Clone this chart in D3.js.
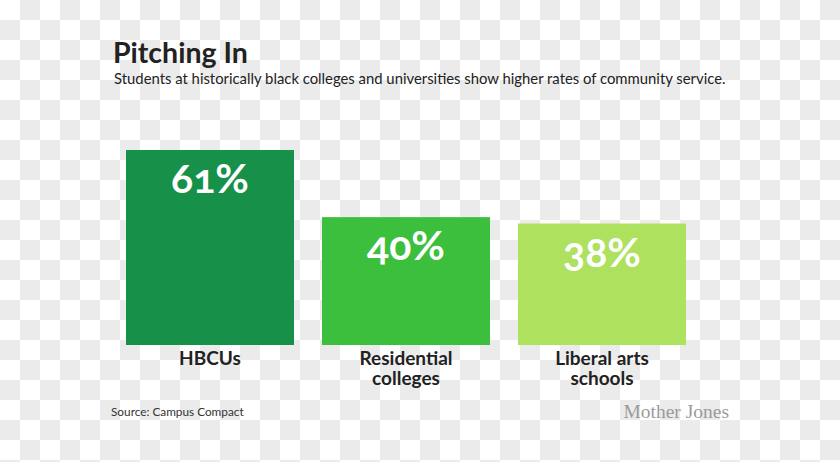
<!DOCTYPE html>
<html>
<head>
<meta charset="utf-8">
<script src="https://cdn.jsdelivr.net/npm/d3@7"></script>
<style>
  html, body { margin: 0; padding: 0; background: #fff; }
  svg { display: block; }
</style>
</head>
<body>
<div id="chart"></div>
<script>
const categories = [["HBCUs"], ["Residential", "colleges"], ["Liberal arts", "schools"]];
const categoryKeys = ["HBCUs", "Residential colleges", "Liberal arts schools"];
const values = [61, 40, 38];
const barColors = ["#17914a", "#3bbf3d", "#ade15e"];
const title = "Pitching In";
const subtitle = "Students at historically black colleges and universities show higher rates of community service.";
const source = "Source: Campus Compact";
const brand = "Mother Jones";

const W = 840, H = 462;
const svg = d3.select("#chart").append("svg").attr("width", W).attr("height", H);

// checkerboard background
const defs = svg.append("defs");
const pat = defs.append("pattern").attr("id", "checker").attr("patternUnits", "userSpaceOnUse")
  .attr("width", 40).attr("height", 40);
pat.append("rect").attr("width", 40).attr("height", 40).attr("fill", "#ffffff");
pat.append("rect").attr("x", 20).attr("y", 0).attr("width", 20).attr("height", 20).attr("fill", "#ebebeb");
pat.append("rect").attr("x", 0).attr("y", 20).attr("width", 20).attr("height", 20).attr("fill", "#ebebeb");
svg.append("rect").attr("width", W).attr("height", H).attr("fill", "url(#checker)");

const x = d3.scaleBand().domain(categoryKeys).range([126, 686]).paddingInner(28 / 196).paddingOuter(0);
const y = d3.scaleLinear().domain([0, 61]).range([345, 150]);

const data = categoryKeys.map((k, i) => ({ key: k, lines: categories[i], value: values[i], color: barColors[i] }));

svg.selectAll("rect.bar").data(data).join("rect")
  .attr("class", "bar")
  .attr("x", d => x(d.key))
  .attr("y", d => y(d.value))
  .attr("width", x.bandwidth())
  .attr("height", d => y(0) - y(d.value))
  .attr("fill", d => d.color);

svg.selectAll("text.val").data(data).join("text")
  .attr("class", "val")
  .attr("x", d => x(d.key) + x.bandwidth() / 2)
  .attr("y", d => y(d.value) + 43)
  .attr("text-anchor", "middle")
  .attr("fill", "#ffffff")
  .style("font-family", "Lato, 'Open Sans', sans-serif")
  .style("font-weight", "700")
  .style("font-size", "41px")
  .style("font-variant-numeric", "oldstyle-nums")
  .text(d => d.value + "%");

const cat = svg.selectAll("text.cat").data(data).join("text")
  .attr("class", "cat")
  .attr("text-anchor", "middle")
  .attr("fill", "#222222")
  .style("font-family", "Lato, 'Open Sans', sans-serif")
  .style("font-weight", "700")
  .style("font-size", "19px");
cat.each(function(d) {
  const t = d3.select(this);
  d.lines.forEach((ln, j) => {
    t.append("tspan").attr("x", x(d.key) + x.bandwidth() / 2).attr("y", 365 + j * 20).text(ln);
  });
});

svg.append("text").attr("x", 113).attr("y", 63)
  .attr("fill", "#222222")
  .style("font-family", "Lato, 'Open Sans', sans-serif")
  .style("font-weight", "700").style("font-size", "28.5px")
  .text(title);

svg.append("text").attr("x", 114).attr("y", 84)
  .attr("fill", "#222222")
  .style("font-family", "Lato, 'Open Sans', sans-serif")
  .style("font-size", "14.85px")
  .text(subtitle);

svg.append("text").attr("x", 111).attr("y", 416)
  .attr("fill", "#333333")
  .style("font-family", "Lato, 'Open Sans', sans-serif")
  .style("font-size", "11.8px")
  .text(source);

svg.append("text").attr("x", 729).attr("y", 418)
  .attr("text-anchor", "end")
  .attr("fill", "#9a9a9a")
  .style("font-family", "'Liberation Serif', 'DejaVu Serif', serif")
  .style("font-size", "19.5px")
  .text(brand);
</script>
</body>
</html>
